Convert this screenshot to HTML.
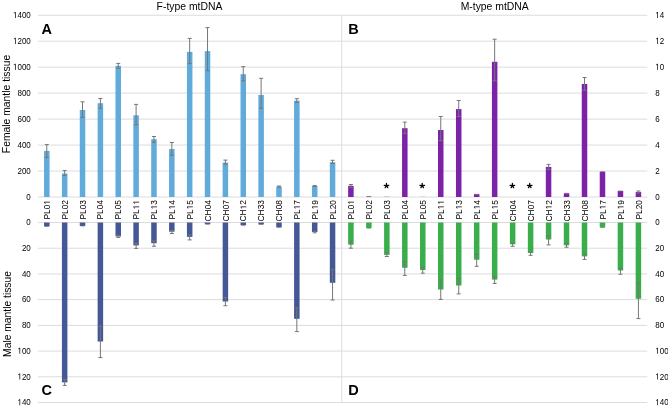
<!DOCTYPE html>
<html><head><meta charset="utf-8"><style>
html,body{margin:0;padding:0;background:#fff;}
body{width:668px;height:408px;overflow:hidden;}
svg{display:block;font-family:"Liberation Sans",sans-serif;fill:#000;}
</style></head><body>
<svg width="668" height="408" viewBox="0 0 668 408">
<rect width="668" height="408" fill="#fff"/>
<line x1="37.9" y1="15.25" x2="647.3" y2="15.25" stroke="#dcdcdc" stroke-width="1"/>
<line x1="37.9" y1="41.21" x2="647.3" y2="41.21" stroke="#dcdcdc" stroke-width="1"/>
<line x1="37.9" y1="67.18" x2="647.3" y2="67.18" stroke="#dcdcdc" stroke-width="1"/>
<line x1="37.9" y1="93.14" x2="647.3" y2="93.14" stroke="#dcdcdc" stroke-width="1"/>
<line x1="37.9" y1="119.11" x2="647.3" y2="119.11" stroke="#dcdcdc" stroke-width="1"/>
<line x1="37.9" y1="145.07" x2="647.3" y2="145.07" stroke="#dcdcdc" stroke-width="1"/>
<line x1="37.9" y1="171.04" x2="647.3" y2="171.04" stroke="#dcdcdc" stroke-width="1"/>
<line x1="37.9" y1="197.00" x2="647.3" y2="197.00" stroke="#dcdcdc" stroke-width="1"/>
<line x1="37.9" y1="222.50" x2="647.3" y2="222.50" stroke="#dcdcdc" stroke-width="1"/>
<line x1="37.9" y1="248.21" x2="647.3" y2="248.21" stroke="#dcdcdc" stroke-width="1"/>
<line x1="37.9" y1="273.93" x2="647.3" y2="273.93" stroke="#dcdcdc" stroke-width="1"/>
<line x1="37.9" y1="299.64" x2="647.3" y2="299.64" stroke="#dcdcdc" stroke-width="1"/>
<line x1="37.9" y1="325.36" x2="647.3" y2="325.36" stroke="#dcdcdc" stroke-width="1"/>
<line x1="37.9" y1="351.07" x2="647.3" y2="351.07" stroke="#dcdcdc" stroke-width="1"/>
<line x1="37.9" y1="376.79" x2="647.3" y2="376.79" stroke="#dcdcdc" stroke-width="1"/>
<line x1="37.9" y1="402.50" x2="647.3" y2="402.50" stroke="#dcdcdc" stroke-width="1"/>
<line x1="341.75" y1="15.25" x2="341.75" y2="402.5" stroke="#dcdcdc" stroke-width="1"/>
<rect x="44.05" y="150.90" width="5.5" height="46.10" fill="#60ABDA"/>
<line x1="46.80" y1="144.60" x2="46.80" y2="157.40" stroke="#767676" stroke-width="1"/>
<line x1="44.80" y1="144.60" x2="48.80" y2="144.60" stroke="#767676" stroke-width="1"/>
<line x1="44.80" y1="157.40" x2="48.80" y2="157.40" stroke="#767676" stroke-width="1"/>
<rect x="44.05" y="222.50" width="5.5" height="3.90" fill="#445898"/>
<line x1="44.80" y1="226.40" x2="48.80" y2="226.40" stroke="#767676" stroke-width="0.8"/>
<rect x="61.91" y="173.50" width="5.5" height="23.50" fill="#60ABDA"/>
<line x1="64.66" y1="170.60" x2="64.66" y2="175.60" stroke="#767676" stroke-width="1"/>
<line x1="62.66" y1="170.60" x2="66.66" y2="170.60" stroke="#767676" stroke-width="1"/>
<line x1="62.66" y1="175.60" x2="66.66" y2="175.60" stroke="#767676" stroke-width="1"/>
<rect x="61.91" y="222.50" width="5.5" height="159.90" fill="#445898"/>
<line x1="64.66" y1="385.40" x2="64.66" y2="379.50" stroke="#767676" stroke-width="1"/>
<line x1="62.66" y1="385.40" x2="66.66" y2="385.40" stroke="#767676" stroke-width="1"/>
<line x1="62.66" y1="379.50" x2="66.66" y2="379.50" stroke="#767676" stroke-width="1"/>
<rect x="79.77" y="110.00" width="5.5" height="87.00" fill="#60ABDA"/>
<line x1="82.52" y1="101.80" x2="82.52" y2="117.40" stroke="#767676" stroke-width="1"/>
<line x1="80.52" y1="101.80" x2="84.52" y2="101.80" stroke="#767676" stroke-width="1"/>
<line x1="80.52" y1="117.40" x2="84.52" y2="117.40" stroke="#767676" stroke-width="1"/>
<rect x="79.77" y="222.50" width="5.5" height="3.50" fill="#445898"/>
<line x1="80.52" y1="226.00" x2="84.52" y2="226.00" stroke="#767676" stroke-width="0.8"/>
<rect x="97.63" y="103.20" width="5.5" height="93.80" fill="#60ABDA"/>
<line x1="100.38" y1="98.50" x2="100.38" y2="108.30" stroke="#767676" stroke-width="1"/>
<line x1="98.38" y1="98.50" x2="102.38" y2="98.50" stroke="#767676" stroke-width="1"/>
<line x1="98.38" y1="108.30" x2="102.38" y2="108.30" stroke="#767676" stroke-width="1"/>
<rect x="97.63" y="222.50" width="5.5" height="119.00" fill="#445898"/>
<line x1="100.38" y1="357.60" x2="100.38" y2="326.20" stroke="#767676" stroke-width="1"/>
<line x1="98.38" y1="357.60" x2="102.38" y2="357.60" stroke="#767676" stroke-width="1"/>
<line x1="98.38" y1="326.20" x2="102.38" y2="326.20" stroke="#767676" stroke-width="1"/>
<rect x="115.49" y="65.80" width="5.5" height="131.20" fill="#60ABDA"/>
<line x1="118.24" y1="63.40" x2="118.24" y2="68.30" stroke="#767676" stroke-width="1"/>
<line x1="116.24" y1="63.40" x2="120.24" y2="63.40" stroke="#767676" stroke-width="1"/>
<line x1="116.24" y1="68.30" x2="120.24" y2="68.30" stroke="#767676" stroke-width="1"/>
<rect x="115.49" y="222.50" width="5.5" height="13.90" fill="#445898"/>
<line x1="118.24" y1="237.40" x2="118.24" y2="235.20" stroke="#767676" stroke-width="1"/>
<line x1="116.24" y1="237.40" x2="120.24" y2="237.40" stroke="#767676" stroke-width="1"/>
<line x1="116.24" y1="235.20" x2="120.24" y2="235.20" stroke="#767676" stroke-width="1"/>
<rect x="133.35" y="115.30" width="5.5" height="81.70" fill="#60ABDA"/>
<line x1="136.10" y1="104.40" x2="136.10" y2="124.80" stroke="#767676" stroke-width="1"/>
<line x1="134.10" y1="104.40" x2="138.10" y2="104.40" stroke="#767676" stroke-width="1"/>
<line x1="134.10" y1="124.80" x2="138.10" y2="124.80" stroke="#767676" stroke-width="1"/>
<rect x="133.35" y="222.50" width="5.5" height="22.90" fill="#445898"/>
<line x1="136.10" y1="248.40" x2="136.10" y2="243.50" stroke="#767676" stroke-width="1"/>
<line x1="134.10" y1="248.40" x2="138.10" y2="248.40" stroke="#767676" stroke-width="1"/>
<line x1="134.10" y1="243.50" x2="138.10" y2="243.50" stroke="#767676" stroke-width="1"/>
<rect x="151.21" y="139.20" width="5.5" height="57.80" fill="#60ABDA"/>
<line x1="153.96" y1="136.50" x2="153.96" y2="142.20" stroke="#767676" stroke-width="1"/>
<line x1="151.96" y1="136.50" x2="155.96" y2="136.50" stroke="#767676" stroke-width="1"/>
<line x1="151.96" y1="142.20" x2="155.96" y2="142.20" stroke="#767676" stroke-width="1"/>
<rect x="151.21" y="222.50" width="5.5" height="20.70" fill="#445898"/>
<line x1="153.96" y1="246.30" x2="153.96" y2="241.00" stroke="#767676" stroke-width="1"/>
<line x1="151.96" y1="246.30" x2="155.96" y2="246.30" stroke="#767676" stroke-width="1"/>
<line x1="151.96" y1="241.00" x2="155.96" y2="241.00" stroke="#767676" stroke-width="1"/>
<rect x="169.07" y="149.00" width="5.5" height="48.00" fill="#60ABDA"/>
<line x1="171.82" y1="142.50" x2="171.82" y2="155.30" stroke="#767676" stroke-width="1"/>
<line x1="169.82" y1="142.50" x2="173.82" y2="142.50" stroke="#767676" stroke-width="1"/>
<line x1="169.82" y1="155.30" x2="173.82" y2="155.30" stroke="#767676" stroke-width="1"/>
<rect x="169.07" y="222.50" width="5.5" height="9.20" fill="#445898"/>
<line x1="171.82" y1="233.50" x2="171.82" y2="230.50" stroke="#767676" stroke-width="1"/>
<line x1="169.82" y1="233.50" x2="173.82" y2="233.50" stroke="#767676" stroke-width="1"/>
<line x1="169.82" y1="230.50" x2="173.82" y2="230.50" stroke="#767676" stroke-width="1"/>
<rect x="186.93" y="51.90" width="5.5" height="145.10" fill="#60ABDA"/>
<line x1="189.68" y1="38.40" x2="189.68" y2="63.60" stroke="#767676" stroke-width="1"/>
<line x1="187.68" y1="38.40" x2="191.68" y2="38.40" stroke="#767676" stroke-width="1"/>
<line x1="187.68" y1="63.60" x2="191.68" y2="63.60" stroke="#767676" stroke-width="1"/>
<rect x="186.93" y="222.50" width="5.5" height="14.40" fill="#445898"/>
<line x1="189.68" y1="239.90" x2="189.68" y2="235.00" stroke="#767676" stroke-width="1"/>
<line x1="187.68" y1="239.90" x2="191.68" y2="239.90" stroke="#767676" stroke-width="1"/>
<line x1="187.68" y1="235.00" x2="191.68" y2="235.00" stroke="#767676" stroke-width="1"/>
<rect x="204.79" y="51.10" width="5.5" height="145.90" fill="#60ABDA"/>
<line x1="207.54" y1="27.60" x2="207.54" y2="70.70" stroke="#767676" stroke-width="1"/>
<line x1="205.54" y1="27.60" x2="209.54" y2="27.60" stroke="#767676" stroke-width="1"/>
<line x1="205.54" y1="70.70" x2="209.54" y2="70.70" stroke="#767676" stroke-width="1"/>
<rect x="204.79" y="222.50" width="5.5" height="1.70" fill="#445898"/>
<line x1="205.54" y1="224.20" x2="209.54" y2="224.20" stroke="#767676" stroke-width="0.8"/>
<rect x="222.65" y="162.60" width="5.5" height="34.40" fill="#60ABDA"/>
<line x1="225.40" y1="160.10" x2="225.40" y2="164.20" stroke="#767676" stroke-width="1"/>
<line x1="223.40" y1="160.10" x2="227.40" y2="160.10" stroke="#767676" stroke-width="1"/>
<line x1="223.40" y1="164.20" x2="227.40" y2="164.20" stroke="#767676" stroke-width="1"/>
<rect x="222.65" y="222.50" width="5.5" height="79.00" fill="#445898"/>
<line x1="225.40" y1="305.70" x2="225.40" y2="297.50" stroke="#767676" stroke-width="1"/>
<line x1="223.40" y1="305.70" x2="227.40" y2="305.70" stroke="#767676" stroke-width="1"/>
<line x1="223.40" y1="297.50" x2="227.40" y2="297.50" stroke="#767676" stroke-width="1"/>
<rect x="240.51" y="74.20" width="5.5" height="122.80" fill="#60ABDA"/>
<line x1="243.26" y1="66.60" x2="243.26" y2="80.80" stroke="#767676" stroke-width="1"/>
<line x1="241.26" y1="66.60" x2="245.26" y2="66.60" stroke="#767676" stroke-width="1"/>
<line x1="241.26" y1="80.80" x2="245.26" y2="80.80" stroke="#767676" stroke-width="1"/>
<rect x="240.51" y="222.50" width="5.5" height="2.70" fill="#445898"/>
<line x1="241.26" y1="225.25" x2="245.26" y2="225.25" stroke="#767676" stroke-width="0.8"/>
<rect x="258.37" y="95.00" width="5.5" height="102.00" fill="#60ABDA"/>
<line x1="261.12" y1="78.30" x2="261.12" y2="108.20" stroke="#767676" stroke-width="1"/>
<line x1="259.12" y1="78.30" x2="263.12" y2="78.30" stroke="#767676" stroke-width="1"/>
<line x1="259.12" y1="108.20" x2="263.12" y2="108.20" stroke="#767676" stroke-width="1"/>
<rect x="258.37" y="222.50" width="5.5" height="1.90" fill="#445898"/>
<line x1="259.12" y1="224.40" x2="263.12" y2="224.40" stroke="#767676" stroke-width="0.8"/>
<rect x="276.23" y="186.60" width="5.5" height="10.40" fill="#60ABDA"/>
<line x1="278.98" y1="186.00" x2="278.98" y2="187.20" stroke="#767676" stroke-width="1"/>
<line x1="276.98" y1="186.00" x2="280.98" y2="186.00" stroke="#767676" stroke-width="1"/>
<line x1="276.98" y1="187.20" x2="280.98" y2="187.20" stroke="#767676" stroke-width="1"/>
<rect x="276.23" y="222.50" width="5.5" height="4.80" fill="#445898"/>
<line x1="276.98" y1="227.30" x2="280.98" y2="227.30" stroke="#767676" stroke-width="0.8"/>
<rect x="294.09" y="100.70" width="5.5" height="96.30" fill="#60ABDA"/>
<line x1="296.84" y1="98.70" x2="296.84" y2="102.40" stroke="#767676" stroke-width="1"/>
<line x1="294.84" y1="98.70" x2="298.84" y2="98.70" stroke="#767676" stroke-width="1"/>
<line x1="294.84" y1="102.40" x2="298.84" y2="102.40" stroke="#767676" stroke-width="1"/>
<rect x="294.09" y="222.50" width="5.5" height="96.30" fill="#445898"/>
<line x1="296.84" y1="331.60" x2="296.84" y2="307.80" stroke="#767676" stroke-width="1"/>
<line x1="294.84" y1="331.60" x2="298.84" y2="331.60" stroke="#767676" stroke-width="1"/>
<line x1="294.84" y1="307.80" x2="298.84" y2="307.80" stroke="#767676" stroke-width="1"/>
<rect x="311.95" y="186.00" width="5.5" height="11.00" fill="#60ABDA"/>
<line x1="314.70" y1="185.60" x2="314.70" y2="186.40" stroke="#767676" stroke-width="1"/>
<line x1="312.70" y1="185.60" x2="316.70" y2="185.60" stroke="#767676" stroke-width="1"/>
<line x1="312.70" y1="186.40" x2="316.70" y2="186.40" stroke="#767676" stroke-width="1"/>
<rect x="311.95" y="222.50" width="5.5" height="9.50" fill="#445898"/>
<line x1="314.70" y1="232.80" x2="314.70" y2="231.30" stroke="#767676" stroke-width="1"/>
<line x1="312.70" y1="232.80" x2="316.70" y2="232.80" stroke="#767676" stroke-width="1"/>
<line x1="312.70" y1="231.30" x2="316.70" y2="231.30" stroke="#767676" stroke-width="1"/>
<rect x="329.81" y="162.20" width="5.5" height="34.80" fill="#60ABDA"/>
<line x1="332.56" y1="160.30" x2="332.56" y2="163.60" stroke="#767676" stroke-width="1"/>
<line x1="330.56" y1="160.30" x2="334.56" y2="160.30" stroke="#767676" stroke-width="1"/>
<line x1="330.56" y1="163.60" x2="334.56" y2="163.60" stroke="#767676" stroke-width="1"/>
<rect x="329.81" y="222.50" width="5.5" height="60.30" fill="#445898"/>
<line x1="332.56" y1="300.00" x2="332.56" y2="269.30" stroke="#767676" stroke-width="1"/>
<line x1="330.56" y1="300.00" x2="334.56" y2="300.00" stroke="#767676" stroke-width="1"/>
<line x1="330.56" y1="269.30" x2="334.56" y2="269.30" stroke="#767676" stroke-width="1"/>
<rect x="348.15" y="185.80" width="5.5" height="11.20" fill="#7C22A8"/>
<line x1="350.90" y1="184.50" x2="350.90" y2="187.30" stroke="#767676" stroke-width="1"/>
<line x1="348.90" y1="184.50" x2="352.90" y2="184.50" stroke="#767676" stroke-width="1"/>
<line x1="348.90" y1="187.30" x2="352.90" y2="187.30" stroke="#767676" stroke-width="1"/>
<rect x="348.15" y="222.50" width="5.5" height="22.20" fill="#39AE4A"/>
<line x1="350.90" y1="248.20" x2="350.90" y2="241.30" stroke="#767676" stroke-width="1"/>
<line x1="348.90" y1="248.20" x2="352.90" y2="248.20" stroke="#767676" stroke-width="1"/>
<line x1="348.90" y1="241.30" x2="352.90" y2="241.30" stroke="#767676" stroke-width="1"/>
<rect x="366.12" y="196.60" width="5.5" height="0.40" fill="#7C22A8"/>
<line x1="366.87" y1="196.55" x2="370.87" y2="196.55" stroke="#767676" stroke-width="0.8"/>
<rect x="366.12" y="222.50" width="5.5" height="5.60" fill="#39AE4A"/>
<line x1="366.87" y1="228.10" x2="370.87" y2="228.10" stroke="#767676" stroke-width="0.8"/>
<rect x="384.09" y="196.00" width="5.5" height="0.8" fill="#c9bce6"/>
<path d="M386.50 185.70L386.50 183.40M386.50 185.70L384.20 185.35M386.50 185.70L388.80 185.35M386.50 185.70L385.20 187.70M386.50 185.70L387.80 187.70" stroke="#000" stroke-width="1.25" stroke-linecap="round" fill="none"/>
<rect x="384.09" y="222.50" width="5.5" height="32.40" fill="#39AE4A"/>
<line x1="386.84" y1="256.50" x2="386.84" y2="252.60" stroke="#767676" stroke-width="1"/>
<line x1="384.84" y1="256.50" x2="388.84" y2="256.50" stroke="#767676" stroke-width="1"/>
<line x1="384.84" y1="252.60" x2="388.84" y2="252.60" stroke="#767676" stroke-width="1"/>
<rect x="402.06" y="128.20" width="5.5" height="68.80" fill="#7C22A8"/>
<line x1="404.81" y1="122.10" x2="404.81" y2="133.60" stroke="#767676" stroke-width="1"/>
<line x1="402.81" y1="122.10" x2="406.81" y2="122.10" stroke="#767676" stroke-width="1"/>
<line x1="402.81" y1="133.60" x2="406.81" y2="133.60" stroke="#767676" stroke-width="1"/>
<rect x="402.06" y="222.50" width="5.5" height="45.30" fill="#39AE4A"/>
<line x1="404.81" y1="275.40" x2="404.81" y2="261.50" stroke="#767676" stroke-width="1"/>
<line x1="402.81" y1="275.40" x2="406.81" y2="275.40" stroke="#767676" stroke-width="1"/>
<line x1="402.81" y1="261.50" x2="406.81" y2="261.50" stroke="#767676" stroke-width="1"/>
<rect x="420.03" y="196.00" width="5.5" height="0.8" fill="#ddd3ea"/>
<path d="M422.20 185.70L422.20 183.40M422.20 185.70L419.90 185.35M422.20 185.70L424.50 185.35M422.20 185.70L420.90 187.70M422.20 185.70L423.50 187.70" stroke="#000" stroke-width="1.25" stroke-linecap="round" fill="none"/>
<rect x="420.03" y="222.50" width="5.5" height="47.50" fill="#39AE4A"/>
<line x1="422.78" y1="273.20" x2="422.78" y2="267.40" stroke="#767676" stroke-width="1"/>
<line x1="420.78" y1="273.20" x2="424.78" y2="273.20" stroke="#767676" stroke-width="1"/>
<line x1="420.78" y1="267.40" x2="424.78" y2="267.40" stroke="#767676" stroke-width="1"/>
<rect x="438.00" y="130.00" width="5.5" height="67.00" fill="#7C22A8"/>
<line x1="440.75" y1="116.50" x2="440.75" y2="140.60" stroke="#767676" stroke-width="1"/>
<line x1="438.75" y1="116.50" x2="442.75" y2="116.50" stroke="#767676" stroke-width="1"/>
<line x1="438.75" y1="140.60" x2="442.75" y2="140.60" stroke="#767676" stroke-width="1"/>
<rect x="438.00" y="222.50" width="5.5" height="67.00" fill="#39AE4A"/>
<line x1="440.75" y1="299.40" x2="440.75" y2="280.20" stroke="#767676" stroke-width="1"/>
<line x1="438.75" y1="299.40" x2="442.75" y2="299.40" stroke="#767676" stroke-width="1"/>
<line x1="438.75" y1="280.20" x2="442.75" y2="280.20" stroke="#767676" stroke-width="1"/>
<rect x="455.97" y="109.10" width="5.5" height="87.90" fill="#7C22A8"/>
<line x1="458.72" y1="100.50" x2="458.72" y2="116.50" stroke="#767676" stroke-width="1"/>
<line x1="456.72" y1="100.50" x2="460.72" y2="100.50" stroke="#767676" stroke-width="1"/>
<line x1="456.72" y1="116.50" x2="460.72" y2="116.50" stroke="#767676" stroke-width="1"/>
<rect x="455.97" y="222.50" width="5.5" height="63.00" fill="#39AE4A"/>
<line x1="458.72" y1="293.90" x2="458.72" y2="278.50" stroke="#767676" stroke-width="1"/>
<line x1="456.72" y1="293.90" x2="460.72" y2="293.90" stroke="#767676" stroke-width="1"/>
<line x1="456.72" y1="278.50" x2="460.72" y2="278.50" stroke="#767676" stroke-width="1"/>
<rect x="473.94" y="194.20" width="5.5" height="2.80" fill="#7C22A8"/>
<line x1="474.69" y1="194.30" x2="478.69" y2="194.30" stroke="#767676" stroke-width="0.8"/>
<rect x="473.94" y="222.50" width="5.5" height="37.20" fill="#39AE4A"/>
<line x1="476.69" y1="266.30" x2="476.69" y2="254.20" stroke="#767676" stroke-width="1"/>
<line x1="474.69" y1="266.30" x2="478.69" y2="266.30" stroke="#767676" stroke-width="1"/>
<line x1="474.69" y1="254.20" x2="478.69" y2="254.20" stroke="#767676" stroke-width="1"/>
<rect x="491.91" y="61.80" width="5.5" height="135.20" fill="#7C22A8"/>
<line x1="494.66" y1="39.20" x2="494.66" y2="80.80" stroke="#767676" stroke-width="1"/>
<line x1="492.66" y1="39.20" x2="496.66" y2="39.20" stroke="#767676" stroke-width="1"/>
<line x1="492.66" y1="80.80" x2="496.66" y2="80.80" stroke="#767676" stroke-width="1"/>
<rect x="491.91" y="222.50" width="5.5" height="57.10" fill="#39AE4A"/>
<line x1="494.66" y1="283.50" x2="494.66" y2="276.30" stroke="#767676" stroke-width="1"/>
<line x1="492.66" y1="283.50" x2="496.66" y2="283.50" stroke="#767676" stroke-width="1"/>
<line x1="492.66" y1="276.30" x2="496.66" y2="276.30" stroke="#767676" stroke-width="1"/>
<path d="M512.40 185.70L512.40 183.40M512.40 185.70L510.10 185.35M512.40 185.70L514.70 185.35M512.40 185.70L511.10 187.70M512.40 185.70L513.70 187.70" stroke="#000" stroke-width="1.25" stroke-linecap="round" fill="none"/>
<rect x="509.88" y="222.50" width="5.5" height="21.80" fill="#39AE4A"/>
<line x1="512.63" y1="246.30" x2="512.63" y2="243.00" stroke="#767676" stroke-width="1"/>
<line x1="510.63" y1="246.30" x2="514.63" y2="246.30" stroke="#767676" stroke-width="1"/>
<line x1="510.63" y1="243.00" x2="514.63" y2="243.00" stroke="#767676" stroke-width="1"/>
<path d="M529.70 185.70L529.70 183.40M529.70 185.70L527.40 185.35M529.70 185.70L532.00 185.35M529.70 185.70L528.40 187.70M529.70 185.70L531.00 187.70" stroke="#000" stroke-width="1.25" stroke-linecap="round" fill="none"/>
<rect x="527.85" y="222.50" width="5.5" height="30.50" fill="#39AE4A"/>
<line x1="530.60" y1="255.30" x2="530.60" y2="252.10" stroke="#767676" stroke-width="1"/>
<line x1="528.60" y1="255.30" x2="532.60" y2="255.30" stroke="#767676" stroke-width="1"/>
<line x1="528.60" y1="252.10" x2="532.60" y2="252.10" stroke="#767676" stroke-width="1"/>
<rect x="545.82" y="166.90" width="5.5" height="30.10" fill="#7C22A8"/>
<line x1="548.57" y1="164.40" x2="548.57" y2="169.40" stroke="#767676" stroke-width="1"/>
<line x1="546.57" y1="164.40" x2="550.57" y2="164.40" stroke="#767676" stroke-width="1"/>
<line x1="546.57" y1="169.40" x2="550.57" y2="169.40" stroke="#767676" stroke-width="1"/>
<rect x="545.82" y="222.50" width="5.5" height="17.00" fill="#39AE4A"/>
<line x1="548.57" y1="244.90" x2="548.57" y2="235.50" stroke="#767676" stroke-width="1"/>
<line x1="546.57" y1="244.90" x2="550.57" y2="244.90" stroke="#767676" stroke-width="1"/>
<line x1="546.57" y1="235.50" x2="550.57" y2="235.50" stroke="#767676" stroke-width="1"/>
<rect x="563.79" y="193.30" width="5.5" height="3.70" fill="#7C22A8"/>
<line x1="564.54" y1="193.30" x2="568.54" y2="193.30" stroke="#767676" stroke-width="0.8"/>
<rect x="563.79" y="222.50" width="5.5" height="22.80" fill="#39AE4A"/>
<line x1="566.54" y1="247.20" x2="566.54" y2="243.60" stroke="#767676" stroke-width="1"/>
<line x1="564.54" y1="247.20" x2="568.54" y2="247.20" stroke="#767676" stroke-width="1"/>
<line x1="564.54" y1="243.60" x2="568.54" y2="243.60" stroke="#767676" stroke-width="1"/>
<rect x="581.76" y="84.00" width="5.5" height="113.00" fill="#7C22A8"/>
<line x1="584.51" y1="77.50" x2="584.51" y2="90.20" stroke="#767676" stroke-width="1"/>
<line x1="582.51" y1="77.50" x2="586.51" y2="77.50" stroke="#767676" stroke-width="1"/>
<line x1="582.51" y1="90.20" x2="586.51" y2="90.20" stroke="#767676" stroke-width="1"/>
<rect x="581.76" y="222.50" width="5.5" height="33.90" fill="#39AE4A"/>
<line x1="584.51" y1="259.40" x2="584.51" y2="254.00" stroke="#767676" stroke-width="1"/>
<line x1="582.51" y1="259.40" x2="586.51" y2="259.40" stroke="#767676" stroke-width="1"/>
<line x1="582.51" y1="254.00" x2="586.51" y2="254.00" stroke="#767676" stroke-width="1"/>
<rect x="599.73" y="171.70" width="5.5" height="25.30" fill="#7C22A8"/>
<line x1="600.48" y1="171.70" x2="604.48" y2="171.70" stroke="#767676" stroke-width="0.8"/>
<rect x="599.73" y="222.50" width="5.5" height="4.90" fill="#39AE4A"/>
<line x1="600.48" y1="227.40" x2="604.48" y2="227.40" stroke="#767676" stroke-width="0.8"/>
<rect x="617.70" y="191.00" width="5.5" height="6.00" fill="#7C22A8"/>
<line x1="618.45" y1="191.00" x2="622.45" y2="191.00" stroke="#767676" stroke-width="0.8"/>
<rect x="617.70" y="222.50" width="5.5" height="48.00" fill="#39AE4A"/>
<line x1="620.45" y1="274.20" x2="620.45" y2="268.20" stroke="#767676" stroke-width="1"/>
<line x1="618.45" y1="274.20" x2="622.45" y2="274.20" stroke="#767676" stroke-width="1"/>
<line x1="618.45" y1="268.20" x2="622.45" y2="268.20" stroke="#767676" stroke-width="1"/>
<rect x="635.67" y="192.00" width="5.5" height="5.00" fill="#7C22A8"/>
<line x1="638.42" y1="191.00" x2="638.42" y2="192.80" stroke="#767676" stroke-width="1"/>
<line x1="636.42" y1="191.00" x2="640.42" y2="191.00" stroke="#767676" stroke-width="1"/>
<line x1="636.42" y1="192.80" x2="640.42" y2="192.80" stroke="#767676" stroke-width="1"/>
<rect x="635.67" y="222.50" width="5.5" height="76.30" fill="#39AE4A"/>
<line x1="638.42" y1="318.60" x2="638.42" y2="283.40" stroke="#767676" stroke-width="1"/>
<line x1="636.42" y1="318.60" x2="640.42" y2="318.60" stroke="#767676" stroke-width="1"/>
<line x1="636.42" y1="283.40" x2="640.42" y2="283.40" stroke="#767676" stroke-width="1"/>
<g style="filter:grayscale(1)">
<g transform="translate(49.90,200.0) rotate(-90)"><text x="-19.618" y="0" font-size="8.4">PL0</text><path d="M515 0L696 0L696 1409L530 1409L197 1180L197 1010L515 1237Z" transform="translate(-4.672,0) scale(0.00410,-0.00410)"/></g>
<g transform="translate(354.00,200.0) rotate(-90)"><text x="-19.618" y="0" font-size="8.4">PL0</text><path d="M515 0L696 0L696 1409L530 1409L197 1180L197 1010L515 1237Z" transform="translate(-4.672,0) scale(0.00410,-0.00410)"/></g>
<g transform="translate(67.76,200.0) rotate(-90)"><text x="-19.618" y="0" font-size="8.4">PL02</text></g>
<g transform="translate(371.97,200.0) rotate(-90)"><text x="-19.618" y="0" font-size="8.4">PL02</text></g>
<g transform="translate(85.62,200.0) rotate(-90)"><text x="-19.618" y="0" font-size="8.4">PL03</text></g>
<g transform="translate(389.94,200.0) rotate(-90)"><text x="-19.618" y="0" font-size="8.4">PL03</text></g>
<g transform="translate(103.48,200.0) rotate(-90)"><text x="-19.618" y="0" font-size="8.4">PL04</text></g>
<g transform="translate(407.91,200.0) rotate(-90)"><text x="-19.618" y="0" font-size="8.4">PL04</text></g>
<g transform="translate(121.34,200.0) rotate(-90)"><text x="-19.618" y="0" font-size="8.4">PL05</text></g>
<g transform="translate(425.88,200.0) rotate(-90)"><text x="-19.618" y="0" font-size="8.4">PL05</text></g>
<g transform="translate(139.20,200.0) rotate(-90)"><text x="-19.618" y="0" font-size="8.4">PL</text><path d="M515 0L696 0L696 1409L530 1409L197 1180L197 1010L515 1237Z" transform="translate(-9.343,0) scale(0.00410,-0.00410)"/><path d="M515 0L696 0L696 1409L530 1409L197 1180L197 1010L515 1237Z" transform="translate(-4.672,0) scale(0.00410,-0.00410)"/></g>
<g transform="translate(443.85,200.0) rotate(-90)"><text x="-19.618" y="0" font-size="8.4">PL</text><path d="M515 0L696 0L696 1409L530 1409L197 1180L197 1010L515 1237Z" transform="translate(-9.343,0) scale(0.00410,-0.00410)"/><path d="M515 0L696 0L696 1409L530 1409L197 1180L197 1010L515 1237Z" transform="translate(-4.672,0) scale(0.00410,-0.00410)"/></g>
<g transform="translate(157.06,200.0) rotate(-90)"><text x="-19.618" y="0" font-size="8.4">PL</text><path d="M515 0L696 0L696 1409L530 1409L197 1180L197 1010L515 1237Z" transform="translate(-9.343,0) scale(0.00410,-0.00410)"/><text x="-4.672" y="0" font-size="8.4">3</text></g>
<g transform="translate(461.82,200.0) rotate(-90)"><text x="-19.618" y="0" font-size="8.4">PL</text><path d="M515 0L696 0L696 1409L530 1409L197 1180L197 1010L515 1237Z" transform="translate(-9.343,0) scale(0.00410,-0.00410)"/><text x="-4.672" y="0" font-size="8.4">3</text></g>
<g transform="translate(174.92,200.0) rotate(-90)"><text x="-19.618" y="0" font-size="8.4">PL</text><path d="M515 0L696 0L696 1409L530 1409L197 1180L197 1010L515 1237Z" transform="translate(-9.343,0) scale(0.00410,-0.00410)"/><text x="-4.672" y="0" font-size="8.4">4</text></g>
<g transform="translate(479.79,200.0) rotate(-90)"><text x="-19.618" y="0" font-size="8.4">PL</text><path d="M515 0L696 0L696 1409L530 1409L197 1180L197 1010L515 1237Z" transform="translate(-9.343,0) scale(0.00410,-0.00410)"/><text x="-4.672" y="0" font-size="8.4">4</text></g>
<g transform="translate(192.78,200.0) rotate(-90)"><text x="-19.618" y="0" font-size="8.4">PL</text><path d="M515 0L696 0L696 1409L530 1409L197 1180L197 1010L515 1237Z" transform="translate(-9.343,0) scale(0.00410,-0.00410)"/><text x="-4.672" y="0" font-size="8.4">5</text></g>
<g transform="translate(497.76,200.0) rotate(-90)"><text x="-19.618" y="0" font-size="8.4">PL</text><path d="M515 0L696 0L696 1409L530 1409L197 1180L197 1010L515 1237Z" transform="translate(-9.343,0) scale(0.00410,-0.00410)"/><text x="-4.672" y="0" font-size="8.4">5</text></g>
<g transform="translate(210.64,200.0) rotate(-90)"><text x="-21.476" y="0" font-size="8.4">CH04</text></g>
<g transform="translate(515.73,200.0) rotate(-90)"><text x="-21.476" y="0" font-size="8.4">CH04</text></g>
<g transform="translate(228.50,200.0) rotate(-90)"><text x="-21.476" y="0" font-size="8.4">CH07</text></g>
<g transform="translate(533.70,200.0) rotate(-90)"><text x="-21.476" y="0" font-size="8.4">CH07</text></g>
<g transform="translate(246.36,200.0) rotate(-90)"><text x="-21.476" y="0" font-size="8.4">CH</text><path d="M515 0L696 0L696 1409L530 1409L197 1180L197 1010L515 1237Z" transform="translate(-9.343,0) scale(0.00410,-0.00410)"/><text x="-4.672" y="0" font-size="8.4">2</text></g>
<g transform="translate(551.67,200.0) rotate(-90)"><text x="-21.476" y="0" font-size="8.4">CH</text><path d="M515 0L696 0L696 1409L530 1409L197 1180L197 1010L515 1237Z" transform="translate(-9.343,0) scale(0.00410,-0.00410)"/><text x="-4.672" y="0" font-size="8.4">2</text></g>
<g transform="translate(264.22,200.0) rotate(-90)"><text x="-21.476" y="0" font-size="8.4">CH33</text></g>
<g transform="translate(569.64,200.0) rotate(-90)"><text x="-21.476" y="0" font-size="8.4">CH33</text></g>
<g transform="translate(282.08,200.0) rotate(-90)"><text x="-21.476" y="0" font-size="8.4">CH08</text></g>
<g transform="translate(587.61,200.0) rotate(-90)"><text x="-21.476" y="0" font-size="8.4">CH08</text></g>
<g transform="translate(299.94,200.0) rotate(-90)"><text x="-19.618" y="0" font-size="8.4">PL</text><path d="M515 0L696 0L696 1409L530 1409L197 1180L197 1010L515 1237Z" transform="translate(-9.343,0) scale(0.00410,-0.00410)"/><text x="-4.672" y="0" font-size="8.4">7</text></g>
<g transform="translate(605.58,200.0) rotate(-90)"><text x="-19.618" y="0" font-size="8.4">PL</text><path d="M515 0L696 0L696 1409L530 1409L197 1180L197 1010L515 1237Z" transform="translate(-9.343,0) scale(0.00410,-0.00410)"/><text x="-4.672" y="0" font-size="8.4">7</text></g>
<g transform="translate(317.80,200.0) rotate(-90)"><text x="-19.618" y="0" font-size="8.4">PL</text><path d="M515 0L696 0L696 1409L530 1409L197 1180L197 1010L515 1237Z" transform="translate(-9.343,0) scale(0.00410,-0.00410)"/><text x="-4.672" y="0" font-size="8.4">9</text></g>
<g transform="translate(623.55,200.0) rotate(-90)"><text x="-19.618" y="0" font-size="8.4">PL</text><path d="M515 0L696 0L696 1409L530 1409L197 1180L197 1010L515 1237Z" transform="translate(-9.343,0) scale(0.00410,-0.00410)"/><text x="-4.672" y="0" font-size="8.4">9</text></g>
<g transform="translate(335.66,200.0) rotate(-90)"><text x="-19.618" y="0" font-size="8.4">PL20</text></g>
<g transform="translate(641.52,200.0) rotate(-90)"><text x="-19.618" y="0" font-size="8.4">PL20</text></g>
<g transform="translate(30.8,18.05) scale(1,1.12)"><path d="M515 0L696 0L696 1409L530 1409L197 1180L197 1010L515 1237Z" transform="translate(-17.797,0) scale(0.00391,-0.00391)"/><text x="-13.348" y="0" font-size="8">400</text></g>
<g transform="translate(30.8,225.30) scale(1,1.12)"><text x="-4.449" y="0" font-size="8">0</text></g>
<g transform="translate(30.8,44.01) scale(1,1.12)"><path d="M515 0L696 0L696 1409L530 1409L197 1180L197 1010L515 1237Z" transform="translate(-17.797,0) scale(0.00391,-0.00391)"/><text x="-13.348" y="0" font-size="8">200</text></g>
<g transform="translate(30.8,251.01) scale(1,1.12)"><text x="-8.898" y="0" font-size="8">20</text></g>
<g transform="translate(30.8,69.98) scale(1,1.12)"><path d="M515 0L696 0L696 1409L530 1409L197 1180L197 1010L515 1237Z" transform="translate(-17.797,0) scale(0.00391,-0.00391)"/><text x="-13.348" y="0" font-size="8">000</text></g>
<g transform="translate(30.8,276.73) scale(1,1.12)"><text x="-8.898" y="0" font-size="8">40</text></g>
<g transform="translate(30.8,95.94) scale(1,1.12)"><text x="-13.348" y="0" font-size="8">800</text></g>
<g transform="translate(30.8,302.44) scale(1,1.12)"><text x="-8.898" y="0" font-size="8">60</text></g>
<g transform="translate(30.8,121.91) scale(1,1.12)"><text x="-13.348" y="0" font-size="8">600</text></g>
<g transform="translate(30.8,328.16) scale(1,1.12)"><text x="-8.898" y="0" font-size="8">80</text></g>
<g transform="translate(30.8,147.87) scale(1,1.12)"><text x="-13.348" y="0" font-size="8">400</text></g>
<g transform="translate(30.8,353.87) scale(1,1.12)"><path d="M515 0L696 0L696 1409L530 1409L197 1180L197 1010L515 1237Z" transform="translate(-13.348,0) scale(0.00391,-0.00391)"/><text x="-8.898" y="0" font-size="8">00</text></g>
<g transform="translate(30.8,173.84) scale(1,1.12)"><text x="-13.348" y="0" font-size="8">200</text></g>
<g transform="translate(30.8,379.59) scale(1,1.12)"><path d="M515 0L696 0L696 1409L530 1409L197 1180L197 1010L515 1237Z" transform="translate(-13.348,0) scale(0.00391,-0.00391)"/><text x="-8.898" y="0" font-size="8">20</text></g>
<g transform="translate(30.8,199.80) scale(1,1.12)"><text x="-4.449" y="0" font-size="8">0</text></g>
<g transform="translate(30.8,405.30) scale(1,1.12)"><path d="M515 0L696 0L696 1409L530 1409L197 1180L197 1010L515 1237Z" transform="translate(-13.348,0) scale(0.00391,-0.00391)"/><text x="-8.898" y="0" font-size="8">40</text></g>
<g transform="translate(655.3,18.05) scale(1,1.12)"><path d="M515 0L696 0L696 1409L530 1409L197 1180L197 1010L515 1237Z" transform="translate(0.000,0) scale(0.00391,-0.00391)"/><text x="4.449" y="0" font-size="8">4</text></g>
<g transform="translate(655.3,225.30) scale(1,1.12)"><text x="0.000" y="0" font-size="8">0</text></g>
<g transform="translate(655.3,44.01) scale(1,1.12)"><path d="M515 0L696 0L696 1409L530 1409L197 1180L197 1010L515 1237Z" transform="translate(0.000,0) scale(0.00391,-0.00391)"/><text x="4.449" y="0" font-size="8">2</text></g>
<g transform="translate(655.3,251.01) scale(1,1.12)"><text x="0.000" y="0" font-size="8">20</text></g>
<g transform="translate(655.3,69.98) scale(1,1.12)"><path d="M515 0L696 0L696 1409L530 1409L197 1180L197 1010L515 1237Z" transform="translate(0.000,0) scale(0.00391,-0.00391)"/><text x="4.449" y="0" font-size="8">0</text></g>
<g transform="translate(655.3,276.73) scale(1,1.12)"><text x="0.000" y="0" font-size="8">40</text></g>
<g transform="translate(655.3,95.94) scale(1,1.12)"><text x="0.000" y="0" font-size="8">8</text></g>
<g transform="translate(655.3,302.44) scale(1,1.12)"><text x="0.000" y="0" font-size="8">60</text></g>
<g transform="translate(655.3,121.91) scale(1,1.12)"><text x="0.000" y="0" font-size="8">6</text></g>
<g transform="translate(655.3,328.16) scale(1,1.12)"><text x="0.000" y="0" font-size="8">80</text></g>
<g transform="translate(655.3,147.87) scale(1,1.12)"><text x="0.000" y="0" font-size="8">4</text></g>
<g transform="translate(655.3,353.87) scale(1,1.12)"><path d="M515 0L696 0L696 1409L530 1409L197 1180L197 1010L515 1237Z" transform="translate(0.000,0) scale(0.00391,-0.00391)"/><text x="4.449" y="0" font-size="8">00</text></g>
<g transform="translate(655.3,173.84) scale(1,1.12)"><text x="0.000" y="0" font-size="8">2</text></g>
<g transform="translate(655.3,379.59) scale(1,1.12)"><path d="M515 0L696 0L696 1409L530 1409L197 1180L197 1010L515 1237Z" transform="translate(0.000,0) scale(0.00391,-0.00391)"/><text x="4.449" y="0" font-size="8">20</text></g>
<g transform="translate(655.3,199.80) scale(1,1.12)"><text x="0.000" y="0" font-size="8">0</text></g>
<g transform="translate(655.3,405.30) scale(1,1.12)"><path d="M515 0L696 0L696 1409L530 1409L197 1180L197 1010L515 1237Z" transform="translate(0.000,0) scale(0.00391,-0.00391)"/><text x="4.449" y="0" font-size="8">40</text></g>
<text x="189.5" y="9.6" font-size="10.4" text-anchor="middle">F-type mtDNA</text>
<text x="494.7" y="9.6" font-size="10.4" text-anchor="middle">M-type mtDNA</text>
<text transform="translate(9.5,104) rotate(-90)" font-size="10.35" text-anchor="middle">Female mantle tissue</text>
<text transform="translate(11.4,314.0) rotate(-90)" font-size="10.3" text-anchor="middle">Male mantle tissue</text>
<text x="41.5" y="33.5" font-size="14.5" font-weight="bold">A</text>
<text x="348.3" y="33.5" font-size="14.5" font-weight="bold">B</text>
<text x="41.5" y="395.4" font-size="14.5" font-weight="bold">C</text>
<text x="348.2" y="395.4" font-size="14.5" font-weight="bold">D</text>
</g>
</svg>
</body></html>
